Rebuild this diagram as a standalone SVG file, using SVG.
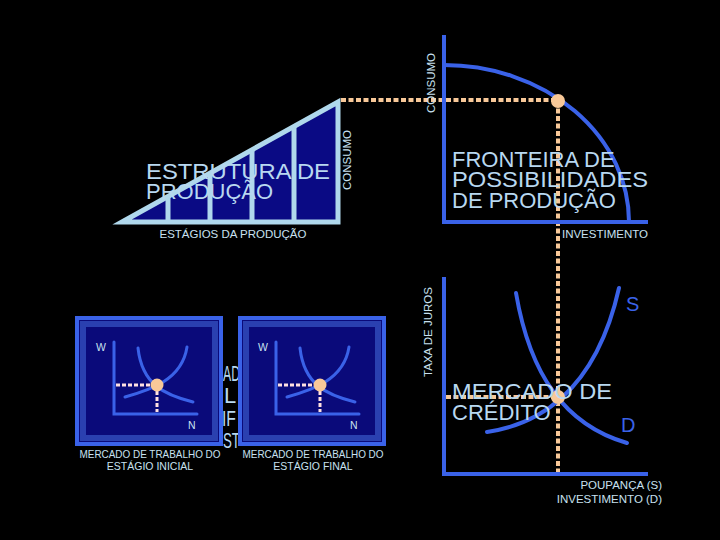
<svg xmlns="http://www.w3.org/2000/svg" width="720" height="540" viewBox="0 0 720 540">
<defs>
<style>
text{font-family:"Liberation Sans",Arial,sans-serif}
.big{fill:#b8d8f0;font-size:22px}
.sm{fill:#c8e0f0;font-size:11.5px}
.xs{fill:#c8e0f0;font-size:10.5px}
.ax{stroke:#3a62e8;stroke-width:4;fill:none}
.cv{stroke:#3a62e8;stroke-width:4;fill:none;stroke-linecap:round}
.cvs{stroke:#3a62e8;stroke-width:3;fill:none;stroke-linecap:round}
.dot{stroke:#f8c898;stroke-width:4;stroke-dasharray:5 2.5;fill:none}
.dots{stroke:#ffe0e0;stroke-width:3;stroke-dasharray:4 2;fill:none}
.pt{fill:#f8c898}
.lbl{fill:#3a62e8;font-size:20px}
.tri{stroke:#b0d8ec;stroke-width:5;fill:none}
</style>
</defs>
<rect width="720" height="540" fill="#000"/>

<g id="connectors">
<line class="dot" x1="341" y1="100" x2="557" y2="100"/>
<line class="dot" x1="558" y1="101" x2="558" y2="474"/>
<line class="dot" x1="446" y1="397" x2="558" y2="397"/>
</g>

<g id="estrutura">
<polygon points="122,222 338,102 338,222" fill="#0a0a84"/>
<line class="tri" x1="168" y1="222" x2="168" y2="196"/>
<line class="tri" x1="210" y1="222" x2="210" y2="173"/>
<line class="tri" x1="252" y1="222" x2="252" y2="150"/>
<line class="tri" x1="294" y1="222" x2="294" y2="126"/>
<polygon class="tri" points="122,222 338,102 338,222" stroke-linejoin="miter"/>
<text class="big" x="146" y="179" textLength="184" lengthAdjust="spacingAndGlyphs">ESTRUTURA DE</text>
<text class="big" x="146" y="199">PRODUÇÃO</text>
<text class="sm" transform="translate(351,160) rotate(-90)" text-anchor="middle">CONSUMO</text>
<text class="sm" x="233" y="238" text-anchor="middle">ESTÁGIOS DA PRODUÇÃO</text>
</g>

<g id="fronteira">
<text class="sm" transform="translate(435,83) rotate(-90)" text-anchor="middle">CONSUMO</text>
<polyline class="ax" points="444,35 444,222 648,222"/>
<path class="cv" d="M444,65 A185,157 0 0 1 629,222"/>
<circle class="pt" cx="558" cy="101" r="7"/>
<text class="big" x="452" y="167">FRONTEIRA DE</text>
<text class="big" x="452" y="187" textLength="196" lengthAdjust="spacingAndGlyphs">POSSIBILIDADES</text>
<text class="big" x="452" y="208">DE PRODUÇÃO</text>
<text class="sm" x="648" y="238" text-anchor="end">INVESTIMENTO</text>
</g>

<g id="hidden-text">
<text class="big" x="223" y="381" font-size="21" textLength="17" lengthAdjust="spacingAndGlyphs">AD</text>
<text class="big" x="224" y="403" font-size="21">L</text>
<text class="big" x="222" y="426" font-size="21" textLength="14" lengthAdjust="spacingAndGlyphs">IF</text>
<text class="big" x="223" y="448" font-size="21" textLength="17" lengthAdjust="spacingAndGlyphs">ST</text>
</g>

<g id="trabalho-inicial">
<rect x="77" y="318" width="144" height="126" fill="#0a0a7a" stroke="#3a62e8" stroke-width="4"/>
<rect x="83" y="324" width="132" height="114" fill="none" stroke="#2a40b0" stroke-width="6"/>
<polyline class="cvs" points="114,342 114,414 197,414"/>
<line class="dots" x1="116" y1="385" x2="157" y2="385"/>
<line class="dots" x1="157" y1="385" x2="157" y2="412"/>
<path class="cvs" d="M138,348 C142,385 165,395 193,402"/>
<path class="cvs" d="M125,397 C150,390 182,380 187,347"/>
<circle class="pt" cx="157" cy="385" r="6.5"/>
<text class="xs" x="96" y="351" font-size="11">W</text>
<text class="xs" x="188" y="429" font-size="11">N</text>
<text class="xs" x="150" y="458" text-anchor="middle" textLength="141" lengthAdjust="spacingAndGlyphs">MERCADO DE TRABALHO DO</text>
<text class="xs" x="150" y="470" text-anchor="middle">ESTÁGIO INICIAL</text>
</g>

<g id="trabalho-final">
<rect x="240" y="318" width="144" height="126" fill="#0a0a7a" stroke="#3a62e8" stroke-width="4"/>
<rect x="246" y="324" width="132" height="114" fill="none" stroke="#2a40b0" stroke-width="6"/>
<polyline class="cvs" points="276,342 276,414 359,414"/>
<line class="dots" x1="278" y1="385" x2="320" y2="385"/>
<line class="dots" x1="320" y1="385" x2="320" y2="412"/>
<path class="cvs" d="M300,348 C304,385 327,395 355,402"/>
<path class="cvs" d="M287,397 C312,390 344,380 349,347"/>
<circle class="pt" cx="320" cy="385" r="6.5"/>
<text class="xs" x="258" y="351" font-size="11">W</text>
<text class="xs" x="350" y="429" font-size="11">N</text>
<text class="xs" x="313" y="458" text-anchor="middle" textLength="141" lengthAdjust="spacingAndGlyphs">MERCADO DE TRABALHO DO</text>
<text class="xs" x="313" y="470" text-anchor="middle">ESTÁGIO FINAL</text>
</g>

<g id="credito">
<text class="sm" transform="translate(432,332) rotate(-90)" text-anchor="middle">TAXA DE JUROS</text>
<polyline class="ax" points="444,277 444,474 648,474"/>
<path class="cv" d="M487,432 C535,425 595,395 619,288"/>
<path class="cv" d="M516,293 C530,375 565,425 627,443"/>
<circle class="pt" cx="558" cy="397" r="7"/>
<text class="lbl" x="626" y="311">S</text>
<text class="lbl" x="621" y="432">D</text>
<text class="big" x="452" y="399" textLength="160" lengthAdjust="spacingAndGlyphs">MERCADO DE</text>
<text class="big" x="452" y="420">CRÉDITO</text>
<text class="sm" x="662" y="489" text-anchor="end">POUPANÇA (S)</text>
<text class="sm" x="662" y="503" text-anchor="end">INVESTIMENTO (D)</text>
</g>
</svg>
